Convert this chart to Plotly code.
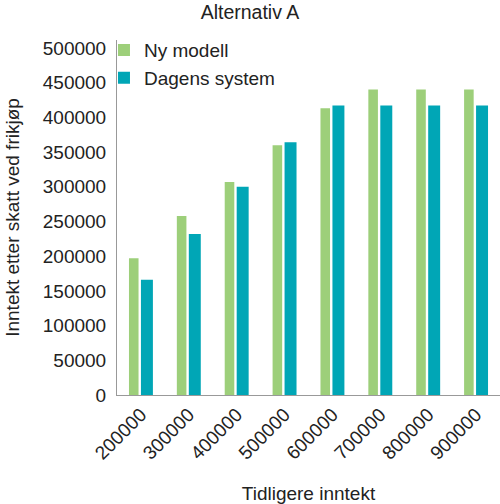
import plotly.graph_objects as go

categories = ["200000", "300000", "400000", "500000", "600000", "700000", "800000", "900000"]
ny_modell = [197000, 258000, 307000, 360000, 413000, 440000, 440000, 440000]
dagens_system = [166000, 232000, 300000, 364000, 417000, 417000, 417000, 417000]
y_ticks = [0, 50000, 100000, 150000, 200000, 250000, 300000, 350000, 400000, 450000, 500000]

font = "Liberation Sans, Arial, sans-serif"

fig = go.Figure()
fig.add_trace(go.Bar(x=categories, y=ny_modell, name="Ny modell",
                     marker=dict(color="#9dcf7a", line=dict(width=0)),
                     width=0.2, offset=-0.25))
fig.add_trace(go.Bar(x=categories, y=dagens_system, name="Dagens system",
                     marker=dict(color="#00a6b6", line=dict(width=0)),
                     width=0.25, offset=0.0))

fig.update_layout(
    width=500, height=504,
    margin=dict(l=117, r=0, t=40, b=109, autoexpand=False),
    paper_bgcolor="white", plot_bgcolor="white",
    barmode="overlay",
    font=dict(family=font, size=19, color="#222222"),
    title=dict(text="Alternativ A", x=0.5, xanchor="center", y=0.99, yanchor="top",
               font=dict(size=19.5, color="#222222")),
    showlegend=True,
    legend=dict(x=-0.034, y=1.025, xanchor="left", yanchor="top", bgcolor="rgba(0,0,0,0)",
                font=dict(size=19), itemwidth=30, tracegroupgap=0, traceorder="normal"),
    xaxis=dict(type="category", tickangle=-45, showline=True, linecolor="#999999",
               linewidth=1, ticks="", showgrid=False, automargin=False,
               title=dict(text="Tidligere inntekt", standoff=30, font=dict(size=19))),
    yaxis=dict(range=[0, 511500], tickvals=y_ticks, ticktext=[str(v) for v in y_ticks],
               showline=True, linecolor="#999999", linewidth=1, showgrid=False,
               ticks="", zeroline=False, automargin=False, ticklabelstandoff=6,
               title=dict(text="Inntekt etter skatt ved frikjøp", standoff=18, font=dict(size=19))),
)

fig.write_html("out.html", config={"displayModeBar": False},
               post_script="document.body.style.margin='0';")
